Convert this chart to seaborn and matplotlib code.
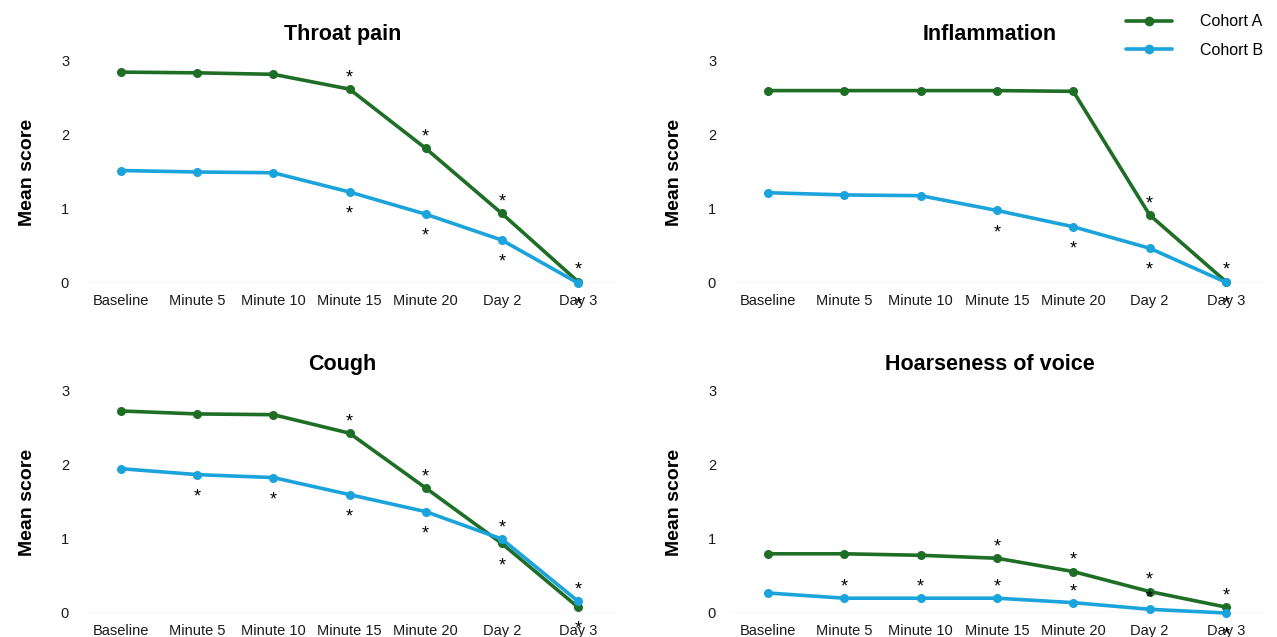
import matplotlib
matplotlib.use("Agg")
import matplotlib.pyplot as plt
import seaborn as sns
import pandas as pd

timepoints = ["Baseline", "Minute 5", "Minute 10", "Minute 15", "Minute 20", "Day 2", "Day 3"]
cohorts = ["Cohort A", "Cohort B"]

# mean scores per panel
throat_a = [2.85, 2.84, 2.82, 2.62, 1.82, 0.94, 0.02]
throat_b = [1.52, 1.50, 1.49, 1.23, 0.93, 0.58, 0.00]
inflam_a = [2.60, 2.60, 2.60, 2.60, 2.59, 0.92, 0.02]
inflam_b = [1.22, 1.19, 1.18, 0.98, 0.76, 0.47, 0.01]
cough_a = [2.73, 2.69, 2.68, 2.43, 1.69, 0.94, 0.08]
cough_b = [1.95, 1.87, 1.83, 1.60, 1.37, 1.00, 0.16]
hoarse_a = [0.80, 0.80, 0.78, 0.74, 0.56, 0.29, 0.08]
hoarse_b = [0.27, 0.20, 0.20, 0.20, 0.14, 0.05, 0.00]

# significance asterisks: 1 = above the point, -1 = below, 0 = none
throat_sig_a = [0, 0, 0, 1, 1, 1, 1]
throat_sig_b = [0, 0, 0, -1, -1, -1, -1]
inflam_sig_a = [0, 0, 0, 0, 0, 1, 1]
inflam_sig_b = [0, 0, 0, -1, -1, -1, -1]
cough_sig_a = [0, 0, 0, 1, 1, -1, -1]
cough_sig_b = [0, -1, -1, -1, -1, 1, 1]
hoarse_sig_a = [0, 0, 0, 1, 1, 1, 1]
hoarse_sig_b = [0, 1, 1, 1, 1, 1, -1]

panels = [
    ("Throat pain", throat_a, throat_b, throat_sig_a, throat_sig_b),
    ("Inflammation", inflam_a, inflam_b, inflam_sig_a, inflam_sig_b),
    ("Cough", cough_a, cough_b, cough_sig_a, cough_sig_b),
    ("Hoarseness of voice", hoarse_a, hoarse_b, hoarse_sig_a, hoarse_sig_b),
]

colors = {"Cohort A": "#1f6e26", "Cohort B": "#1ba3dc"}

sns.set_theme(style="white")
plt.rcParams["font.family"] = ["Liberation Sans", "DejaVu Sans"]

fig = plt.figure(figsize=(12.77, 6.37), dpi=100)

W, H = 1277, 637
# axes boxes in pixels: left, top(y=3), right, bottom(y=0)
boxes = [(83, 61, 616, 283), (730, 61, 1264, 283),
         (83, 391, 616, 613), (730, 391, 1264, 613)]

for (title, a, b, sa, sb), (l, t, r, btm) in zip(panels, boxes):
    ax = fig.add_axes([l / W, 1 - btm / H, (r - l) / W, (btm - t) / H])
    df = pd.DataFrame({
        "time": timepoints * 2,
        "x": list(range(len(timepoints))) * 2,
        "score": a + b,
        "cohort": [cohorts[0]] * len(a) + [cohorts[1]] * len(b),
    })
    sns.lineplot(data=df, x="x", y="score", hue="cohort", palette=colors,
                 marker="o", markersize=6.5, markeredgewidth=0, linewidth=2.6,
                 legend=False, ax=ax, clip_on=False, zorder=3)
    ax.axhline(0, color="#e2e2e2", linewidth=1, zorder=1)
    ax.set_xlim(0 - 0.5, len(timepoints) - 0.5)
    ax.set_ylim(0, 3)
    ax.set_xticks(range(len(timepoints)))
    ax.set_xticklabels(timepoints)
    ax.set_yticks([0, 1, 2, 3])
    ax.tick_params(axis="both", length=0, labelsize=10.5, colors="#1a1a1a")
    ax.tick_params(axis="x", pad=8)
    ax.tick_params(axis="y", pad=10)
    for s in ax.spines.values():
        s.set_visible(False)
    ax.set_xlabel("")
    ax.set_ylabel("Mean score", fontsize=14, fontweight="bold", labelpad=18, color="black")
    ax.set_title(title, fontsize=15.5, fontweight="bold", pad=15, x=0.487, color="black")

    for vals, sig in ((a, sa), (b, sb)):
        for i, (v, s) in enumerate(zip(vals, sig)):
            if s == 0:
                continue
            ax.annotate("*", (i, v), xytext=(0, 12 * s - 4), textcoords="offset points",
                        ha="center", va="center", fontsize=13, color="black",
                        annotation_clip=False)

handles = [plt.Line2D([], [], color=colors[c], marker="o", markersize=7, markeredgewidth=0,
                      linewidth=2.6) for c in cohorts]
fig.legend(handles, cohorts, loc="upper right", bbox_to_anchor=(1.0, 1.0), frameon=False,
           fontsize=11.5, handlelength=2.9, handletextpad=1.7, labelspacing=0.85,
           labelcolor="black")

fig.savefig("out.png", dpi=100)
